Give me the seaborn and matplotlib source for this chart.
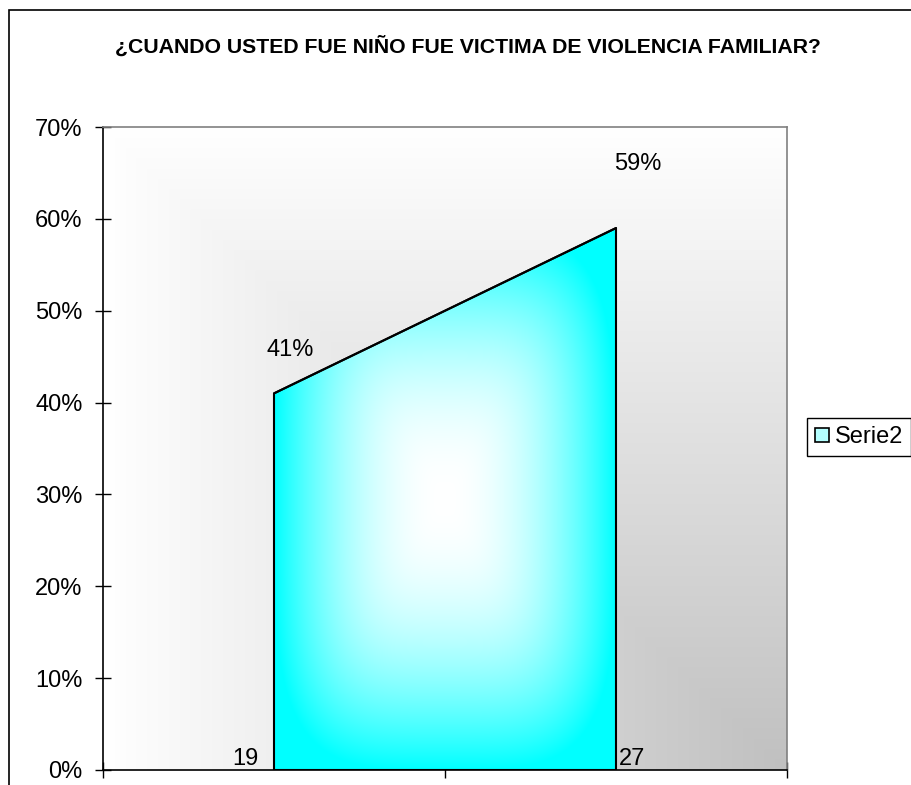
import numpy as np
import pandas as pd
import matplotlib
matplotlib.use("Agg")
import matplotlib.pyplot as plt
from matplotlib.patches import Rectangle, Patch
from matplotlib.ticker import PercentFormatter
import seaborn as sns

# data
categories = ["19", "27"]
values = [0.41, 0.59]
counts = [19, 27]
value_labels = ["41%", "59%"]
series_name = "Serie2"
y_ticks = [0.0, 0.1, 0.2, 0.3, 0.4, 0.5, 0.6, 0.7]
title = "¿CUANDO USTED FUE NIÑO FUE VICTIMA DE VIOLENCIA FAMILIAR?"

df = pd.DataFrame({"pos": np.arange(len(categories)), "share": values, "count": counts})

sns.set_style("white")
plt.rcParams["font.family"] = ["Liberation Sans", "DejaVu Sans"]
plt.rcParams["text.color"] = "black"
plt.rcParams["xtick.color"] = "black"
plt.rcParams["ytick.color"] = "black"

W, H = 911, 785
fig = plt.figure(figsize=(W / 100, H / 100), dpi=100)
ax = fig.add_axes([103 / W, 1 - 770 / H, (787 - 103) / W, (770 - 127) / H])

xlim = (-0.5, len(categories) - 0.5)
ax.set_xlim(*xlim)
ax.set_ylim(0, 0.7)

# plot area background: white top/left fading to grey in the bottom-right corner
n = 400
gx, gy = np.meshgrid(np.linspace(0, 1, n), np.linspace(0, 1, n))
shade = 1 - np.minimum(gx, gy) * (1 - 192 / 255)
ax.imshow(np.dstack([shade] * 3), extent=(xlim[0], xlim[1], 0, 0.7), origin="upper",
          aspect="auto", zorder=0, interpolation="bilinear")

# area series
sns.lineplot(data=df, x="pos", y="share", color="black", linewidth=1.5, ax=ax, zorder=4)
poly = ax.fill_between(df["pos"], df["share"], 0, facecolor="none",
                       edgecolor="black", linewidth=1.5, zorder=3)

# cyan -> white gradient from the centre of the area
hx, hy = np.meshgrid(np.linspace(-1, 1, n), np.linspace(-1, 1, n))
t = np.clip((np.abs(hx) ** 4 + np.abs(hy) ** 4) ** 0.25, 0, 1)
red = 1 - t ** 2
fill = np.dstack([red, np.ones_like(t), np.ones_like(t)])
im = ax.imshow(fill, extent=(df["pos"].min(), df["pos"].max(), 0, df["share"].max()),
               aspect="auto", zorder=2, interpolation="bilinear")
im.set_clip_path(poly.get_paths()[0], transform=ax.transData)
ax.set_xlim(*xlim)
ax.set_ylim(0, 0.7)

# data labels
pct_offsets = [(11.5, 31), (16, 46)]
for (_, row), lab, off in zip(df.iterrows(), value_labels, pct_offsets):
    ax.annotate(lab, (row["pos"], row["share"]), xytext=off, textcoords="offset points",
                ha="center", va="center", fontsize=17, zorder=6)
cnt_offsets = [(-11, 8), (2, 8)]
cnt_align = ["right", "left"]
for (_, row), off, ha in zip(df.iterrows(), cnt_offsets, cnt_align):
    ax.annotate(f"{int(row['count'])}", (row["pos"], 0), xytext=off, textcoords="offset points",
                ha=ha, va="center", fontsize=17, zorder=6)

# axes styling
ax.set_yticks(y_ticks)
ax.yaxis.set_major_formatter(PercentFormatter(1, decimals=0))
ax.set_xticks(np.arange(len(categories) + 1) - 0.5)
ax.set_xticklabels([])
ax.set_xlabel("")
ax.set_ylabel("")
ax.tick_params(left=True, bottom=True, direction="inout", length=11.5, width=1,
               color="black", labelcolor="black", labelsize=17, pad=9)
for side in ["top", "right"]:
    ax.spines[side].set_color("#808080")
    ax.spines[side].set_linewidth(1.2)
for side in ["left", "bottom"]:
    ax.spines[side].set_color("black")
    ax.spines[side].set_linewidth(1.2)
ax.spines["bottom"].set_zorder(5)

# legend (runs off the right edge like the original)
handle = Patch(facecolor="#b4ffff", edgecolor="black", linewidth=1.2)
leg = ax.legend([handle], [series_name], loc="center left",
                bbox_to_anchor=(807 / W, 1 - 437 / H), bbox_transform=fig.transFigure,
                frameon=True, fancybox=False, fontsize=17, handlelength=0.62,
                handleheight=0.55, handletextpad=0.25, borderpad=0.32, borderaxespad=0)
leg.get_frame().set_edgecolor("black")
leg.get_frame().set_linewidth(1)
leg.get_frame().set_alpha(1)

# title and chart border
fig.text(468 / W, 1 - 53 / H, title, ha="center", va="baseline",
         fontsize=15.3, fontweight="bold", color="black")
fig.add_artist(Rectangle((9 / W, -0.1), 2, 1.1 - 10 / H, transform=fig.transFigure,
                         fill=False, edgecolor="black", linewidth=1.2))

fig.savefig("out.png", dpi=100)
